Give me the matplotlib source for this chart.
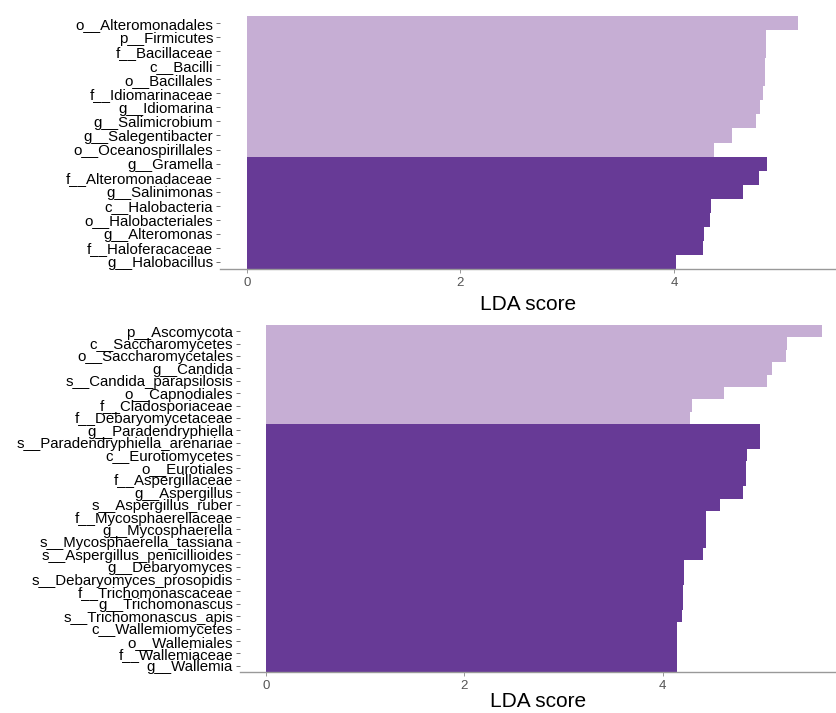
import matplotlib
matplotlib.use("Agg")
import matplotlib.pyplot as plt

plt.rcParams['font.family'] = ['Liberation Sans', 'DejaVu Sans']

# Bacteria panel (top), listed top to bottom
bact_labels = ["o__Alteromonadales", "p__Firmicutes", "f__Bacillaceae", "c__Bacilli",
               "o__Bacillales", "f__Idiomarinaceae", "g__Idiomarina", "g__Salimicrobium",
               "g__Salegentibacter", "o__Oceanospirillales", "g__Gramella",
               "f__Alteromonadaceae", "g__Salinimonas", "c__Halobacteria",
               "o__Halobacteriales", "g__Alteromonas", "f__Haloferacaceae", "g__Halobacillus"]
bact_lda = [5.16, 4.86, 4.86, 4.85, 4.85, 4.83, 4.81, 4.77, 4.54, 4.38,
            4.875, 4.80, 4.65, 4.35, 4.34, 4.28, 4.27, 4.02]
bact_group = [0] * 10 + [1] * 8

# Fungi panel (bottom), listed top to bottom
fung_labels = ["p__Ascomycota", "c__Saccharomycetes", "o__Saccharomycetales", "g__Candida",
               "s__Candida_parapsilosis", "o__Capnodiales", "f__Cladosporiaceae",
               "f__Debaryomycetaceae", "g__Paradendryphiella", "s__Paradendryphiella_arenariae",
               "c__Eurotiomycetes", "o__Eurotiales", "f__Aspergillaceae", "g__Aspergillus",
               "s__Aspergillus_ruber", "f__Mycosphaerellaceae", "g__Mycosphaerella",
               "s__Mycosphaerella_tassiana", "s__Aspergillus_penicillioides", "g__Debaryomyces",
               "s__Debaryomyces_prosopidis", "f__Trichomonascaceae", "g__Trichomonascus",
               "s__Trichomonascus_apis", "c__Wallemiomycetes", "o__Wallemiales",
               "f__Wallemiaceae", "g__Wallemia"]
fung_lda = [5.60, 5.25, 5.24, 5.10, 5.05, 4.62, 4.29, 4.27,
            4.98, 4.98, 4.85, 4.84, 4.84, 4.81, 4.58, 4.44, 4.44, 4.44, 4.41,
            4.21, 4.21, 4.20, 4.20, 4.19, 4.14, 4.14, 4.14, 4.14]
fung_group = [0] * 8 + [1] * 20

group_colors = ["#C6AED4", "#673A96"]

W, H = 836, 713
fig = plt.figure(figsize=(W / 100, H / 100), dpi=100)


def panel(rect_px, labels, values, groups, xlim, labelpad):
    l, t, r, b = rect_px
    ax = fig.add_axes([l / W, 1 - b / H, (r - l) / W, (b - t) / H])
    n = len(labels)
    ypos = list(range(n))
    ax.barh(ypos, values, height=1.0, color=[group_colors[g] for g in groups],
            edgecolor='none')
    ax.set_ylim(n - 0.5, -0.5)
    ax.set_xlim(*xlim)
    ax.set_yticks(ypos)
    ax.set_yticklabels(labels, fontsize=10.8, color='black')
    ax.set_xticks([0, 2, 4])
    ax.tick_params(axis='y', length=3, width=0.6, color='#555555', pad=2)
    ax.tick_params(axis='x', length=3, width=0.6, color='#888888', pad=3,
                   labelsize=9.5, labelcolor='#555555')
    for s in ['top', 'right', 'left']:
        ax.spines[s].set_visible(False)
    ax.spines['bottom'].set_color('#999999')
    ax.spines['bottom'].set_linewidth(1.0)
    ax.set_xlabel("LDA score", fontsize=15, labelpad=labelpad)
    ax.patch.set_alpha(0)
    return ax


panel((220, 16, 836, 269), bact_labels, bact_lda, bact_group, (-0.25, 5.518), 4)
panel((240, 325, 836, 672), fung_labels, fung_lda, fung_group, (-0.262, 5.746), 0)

fig.savefig("out.png", dpi=100)
